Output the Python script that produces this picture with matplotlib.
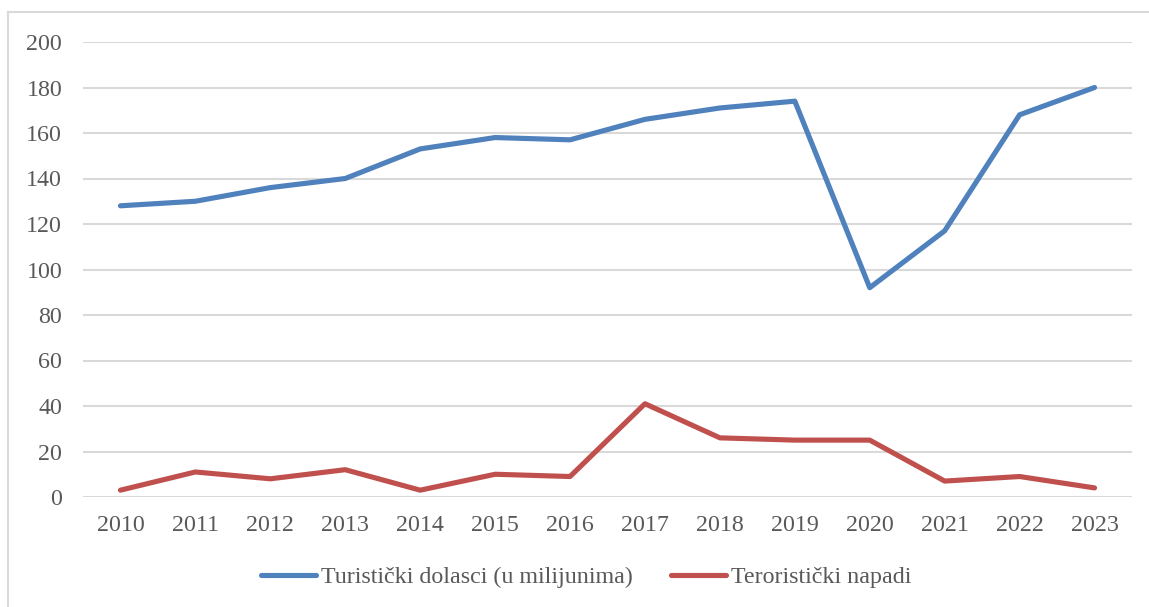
import matplotlib

matplotlib.use("Agg")
import matplotlib.pyplot as plt
from matplotlib.lines import Line2D

years = [str(y) for y in range(2010, 2024)]
tourist_arrivals = [128, 130, 136, 140, 153, 158, 157, 166, 171, 174, 92, 117, 168, 180]
terror_attacks = [3, 11, 8, 12, 3, 10, 9, 41, 26, 25, 25, 7, 9, 4]
y_ticks = [0, 20, 40, 60, 80, 100, 120, 140, 160, 180, 200]

plt.rcParams["font.family"] = ["Liberation Serif", "DejaVu Serif"]
text_color = "#595959"
font_size = 17.3

fig = plt.figure(figsize=(11.49, 6.07), dpi=100)
fig.patch.set_facecolor("white")
ax = fig.add_axes([83 / 1149, 1 - 497 / 607, (1132 - 83) / 1149, (497 - 42) / 607])

x = list(range(len(years)))
ax.plot(x, tourist_arrivals, color="#4F81BD", linewidth=3.7, solid_capstyle="round",
        solid_joinstyle="round", label="Turistički dolasci (u milijunima)", zorder=3)
ax.plot(x, terror_attacks, color="#C0504D", linewidth=3.7, solid_capstyle="round",
        solid_joinstyle="round", label="Teroristički napadi", zorder=3)

ax.set_xlim(-0.5, len(years) - 0.5)
ax.set_ylim(0, 200)
ax.set_xticks(x)
ax.set_xticklabels(years)
ax.set_yticks(y_ticks)
ax.tick_params(axis="both", length=0, labelsize=font_size, colors=text_color)
ax.tick_params(axis="x", pad=13)
ax.tick_params(axis="y", pad=15)
ax.grid(True, axis="y", color="#D9D9D9", linewidth=1.5)
ax.set_axisbelow(True)
for spine in ax.spines.values():
    spine.set_visible(False)

fig.legend(loc="center", bbox_to_anchor=(586 / 1149, 1 - 577 / 607), ncol=2, frameon=False,
           fontsize=font_size, labelcolor=text_color, handlelength=2.3, handletextpad=0.2,
           columnspacing=1.6)

# outer chart frame (top and left edges visible)
fig.add_artist(Line2D([8 / 1149, 1.0], [1 - 12 / 607] * 2, color="#D9D9D9", linewidth=1.5,
                      transform=fig.transFigure))
fig.add_artist(Line2D([8 / 1149] * 2, [0.0, 1 - 12 / 607], color="#D9D9D9", linewidth=1.5,
                      transform=fig.transFigure))

fig.savefig("out.png", dpi=100)
